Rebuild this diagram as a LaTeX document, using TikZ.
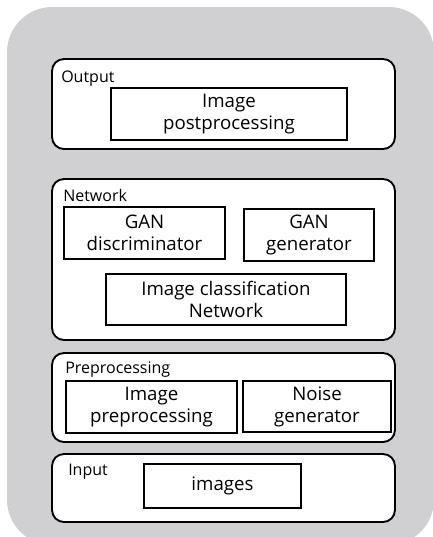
\documentclass[tikz,border=0pt]{standalone}
\usepackage{fontspec}
\setmainfont{Open Sans}
\definecolor{backgray}{RGB}{208,207,209}
\begin{document}
\begin{tikzpicture}[x=0.75pt,y=-0.75pt,
  layer/.style={draw=black, line width=1.4pt, rounded corners=9pt, fill=white, minimum width=257.25pt, inner sep=0pt},
  block/.style={draw=black, line width=1.8pt, fill=white, align=center, inner sep=0pt, font=\fontsize{14}{16.5}\selectfont},
  tag/.style={anchor=base west, inner sep=0pt, font=\fontsize{12}{14}\selectfont}]
\useasboundingbox (0,0) rectangle (433,537);
\fill[backgray, rounded corners=34pt] (7,7) rectangle (434,545); % background panel
% layers
\node[layer, minimum height=67.5pt] (outlayer) at (223.5,104) {};
\node[layer, minimum height=120.75pt] (netlayer) at (223.5,259.5) {};
\node[layer, minimum height=66.75pt] (prelayer) at (223.5,397.5) {};
\node[layer, minimum height=51pt] (inlayer) at (223.5,488) {};
% layer names
\node[tag] (outtag) at (61,82) {Output};
\node[tag] (nettag) at (63,201) {Network};
\node[tag] (pretag) at (65,373) {Preprocessing};
\node[tag] (intag) at (68,475) {Input};
% blocks
\node[block, minimum width=177pt, minimum height=39pt] (post) at (229,114) {Image\\postprocessing};
\node[block, minimum width=120.75pt, minimum height=39pt] (disc) at (144.5,233) {GAN\\discriminator};
\node[block, minimum width=97.5pt, minimum height=39pt] (gen) at (309,235) {GAN\\generator};
\node[block, minimum width=180pt, minimum height=38.25pt] (cls) at (226,299.5) {Image classification\\Network};
\node[block, minimum width=128.25pt, minimum height=39pt] (prep) at (151.5,407) {Image\\preprocessing};
\node[block, minimum width=111pt, minimum height=38.25pt] (noise) at (317,406.5) {Noise\\generator};
\node[block, minimum width=117.75pt, minimum height=33pt] (imgs) at (222.5,486) {images};
\end{tikzpicture}
\end{document}
